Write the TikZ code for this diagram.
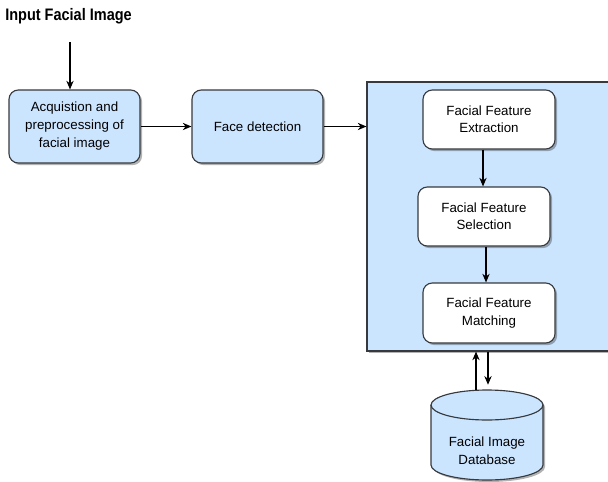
\documentclass[tikz,border=0pt]{standalone}
\usepackage{fontspec}
\setmainfont{Liberation Sans}
\newfontfamily\titlefont[FakeStretch=0.87]{Liberation Sans}
\usetikzlibrary{arrows.meta,shadows,calc}
\definecolor{boxblue}{HTML}{CCE5FF}
\definecolor{edge}{HTML}{36393D}
\tikzset{
  shadowed/.style={drop shadow={shadow xshift=1.6pt,shadow yshift=-1.6pt,opacity=0.3,fill=black}},
  bluebox/.style={draw=edge,line width=0.85pt,fill=boxblue,rounded corners=7pt,align=center,
    minimum width=98.25pt,minimum height=54.75pt,inner sep=2pt,shadowed,
    font=\fontsize{10}{13.5}\selectfont},
  whitebox/.style={draw=edge,line width=0.85pt,fill=white,rounded corners=7pt,align=center,
    minimum width=99pt,minimum height=44.25pt,inner sep=2pt,shadowed,
    font=\fontsize{10}{13}\selectfont},
  conn/.style={draw=black,line width=0.8pt,-{Stealth[length=6.5pt,width=5.5pt]}},
}
\begin{document}
\begin{tikzpicture}[x=0.75pt,y=0.75pt]
\useasboundingbox (0,0) rectangle (608,-482);
\begin{scope}
\clip (0,0) rectangle (608,-482);
% container
\node[draw=edge,line width=0.85pt,fill=boxblue,minimum width=183.75pt,minimum height=201.75pt,
  inner sep=0pt,shadowed] (cont) at (489.5,-216.5) {};
\end{scope}
% title
\node[anchor=west,inner sep=0pt,font=\titlefont\bfseries\fontsize{12.5}{14}\selectfont] (title) at (5,-16) {Input Facial Image};
\coordinate (inp) at (70,-42);
% stage boxes
\node[bluebox] (acq) at (74.5,-126.5) {Acquistion and\\preprocessing of\\facial image};
\node[bluebox] (fd) at (257.5,-126.5) {Face detection};
% inner boxes
\node[whitebox] (ext) at (489,-119.5) {Facial Feature\\Extraction};
\node[whitebox] (sel) at (484,-216.5) {Facial Feature\\Selection};
\node[whitebox,minimum height=45pt] (mat) at (489,-313) {Facial Feature\\Matching};
% database cylinder
\node[minimum width=84pt,minimum height=67.5pt,inner sep=0pt] (db) at (487,-435) {};
\fill[black,opacity=0.3] (433,-407) -- (433,-467) arc[start angle=180,end angle=360,x radius=56,y radius=15]
  -- (545,-407) arc[start angle=0,end angle=180,x radius=56,y radius=15] -- cycle;
\draw[draw=edge,line width=0.85pt,fill=boxblue] (431,-405) -- (431,-465)
  arc[start angle=180,end angle=360,x radius=56,y radius=15]
  -- (543,-405) arc[start angle=0,end angle=180,x radius=56,y radius=15] -- cycle;
\draw[draw=edge,line width=0.85pt] (431,-405) arc[start angle=180,end angle=360,x radius=56,y radius=15];
\node[align=center,font=\fontsize{10}{13.5}\selectfont] (dbt) at (487,-451) {Facial Image\\Database};
% connectors
\draw[conn] (inp) -- (acq.north -| inp);
\draw[conn] (acq) -- (fd);
\draw[conn] (fd.east) -- (fd.east -| cont.west);
\draw[conn] (ext.south -| 483,0) -- (sel.north -| 483,0);
\draw[conn] (sel.south -| 486,0) -- (mat.north -| 486,0);
\draw[conn] ($(db.north)+(-11,0)$) -- ($(db.north |- cont.south)+(-11,0)$);
\draw[conn] ($(db.north |- cont.south)+(1,0)$) -- ($(db.north)+(1,5)$);
\end{tikzpicture}
\end{document}
